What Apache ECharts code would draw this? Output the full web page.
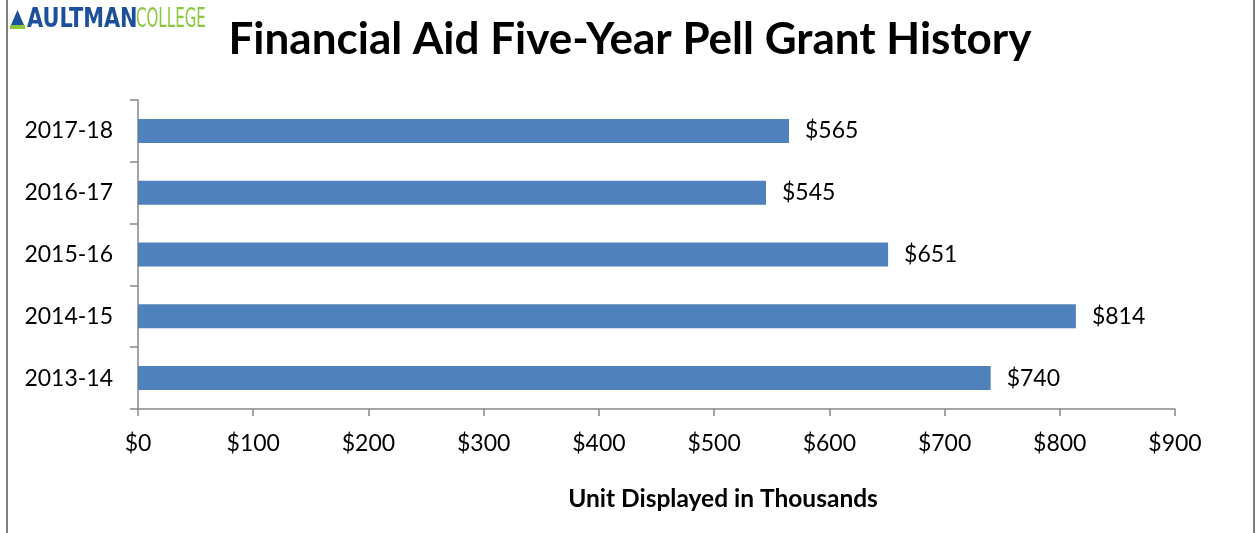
<!DOCTYPE html>
<html><head><meta charset="utf-8">
<script src="https://cdn.jsdelivr.net/npm/echarts@6/dist/echarts.min.js"></script>
<style>html,body{margin:0;padding:0;background:#fff}#c{width:1255px;height:533px}</style>
</head><body><div id="c"></div>
<script>
const categories = ['2013-14', '2014-15', '2015-16', '2016-17', '2017-18'];
const values = [740, 814, 651, 545, 565];
const xTicks = [0, 100, 200, 300, 400, 500, 600, 700, 800, 900];
const titleText = 'Financial Aid Five-Year Pell Grant History';
const axisTitle = 'Unit Displayed in Thousands';

const chart = echarts.init(document.getElementById('c'), null, {renderer: 'canvas'});
const F = 'Lato, "Open Sans", sans-serif';
const N = '"Liberation Sans Narrow", "DejaVu Sans Condensed", sans-serif';
chart.setOption({
  animation: false,
  backgroundColor: '#fff',
  grid: {left: 138, right: 80, top: 100, bottom: 124},
  xAxis: {
    type: 'value', min: xTicks[0], max: xTicks[xTicks.length - 1], interval: 100,
    splitLine: {show: false},
    axisLine: {show: true, lineStyle: {color: '#868686', width: 1.5}},
    axisTick: {show: true, length: 7, lineStyle: {color: '#868686', width: 1.5}},
    axisLabel: {color: '#000', fontFamily: F, fontSize: 23, margin: 23, formatter: v => '$' + v}
  },
  yAxis: {
    type: 'category', data: categories,
    axisLine: {show: true, lineStyle: {color: '#868686', width: 1.5}},
    axisTick: {show: true, length: 8, lineStyle: {color: '#868686', width: 1.5}},
    axisLabel: {color: '#000', fontFamily: F, fontSize: 23, margin: 25}
  },
  series: [{
    type: 'bar', data: values, barWidth: 24,
    itemStyle: {color: '#4f81bd'},
    label: {show: true, position: 'right', distance: 16, color: '#000', fontFamily: F, fontSize: 23, formatter: p => '$' + p.value}
  }],
  graphic: [
    {type: 'line', shape: {x1: 7, y1: 0, x2: 7, y2: 533}, style: {stroke: '#7f7f7f', lineWidth: 2}},
    {type: 'line', shape: {x1: 1254, y1: 0, x2: 1254, y2: 533}, style: {stroke: '#7f7f7f', lineWidth: 2}},
    {type: 'polygon', shape: {points: [[17.5, 10], [11, 25], [24, 25]]}, style: {fill: '#1c4f9c'}},
    {type: 'rect', shape: {x: 10, y: 25, width: 15, height: 4}, style: {fill: '#8cc63e'}},
    {type: 'text', x: 27, y: 6, scaleX: 0.86, style: {text: 'AULTMAN', x: 0, y: 0, verticalAlign: 'top', fontFamily: N, fontWeight: 'bold', fontSize: 27, fill: '#1c4f9c'}},
    {type: 'text', x: 136, y: 6, scaleX: 0.62, style: {text: 'COLLEGE', x: 0, y: 0, verticalAlign: 'top', fontFamily: N, fontSize: 27, fill: '#8cc63e'}},
    {type: 'text', x: 630, y: 40, style: {text: titleText, x: 0, y: 0, fontFamily: F, fontWeight: 'bold', fontSize: 44, fill: '#000', align: 'center', verticalAlign: 'middle'}},
    {type: 'text', x: 723, y: 499, style: {text: axisTitle, x: 0, y: 0, fontFamily: F, fontWeight: 'bold', fontSize: 24.5, fill: '#000', align: 'center', verticalAlign: 'middle'}}
  ]
});
</script></body></html>
